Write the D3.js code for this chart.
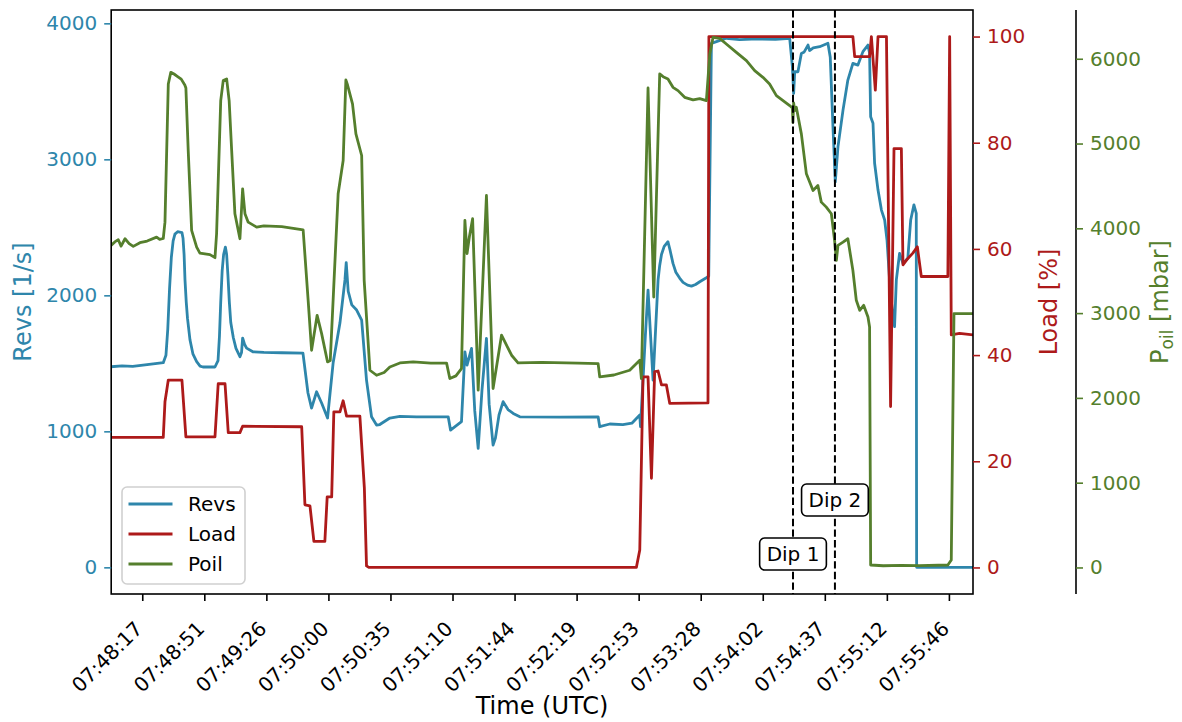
<!DOCTYPE html>
<html>
<head>
<meta charset="utf-8">
<script src="https://cdn.jsdelivr.net/npm/d3@7"></script>
<style>
  html, body { margin: 0; padding: 0; background: #fff; }
  svg { display: block; font-family: "DejaVu Sans", sans-serif; }
</style>
</head>
<body>
<svg id="chart" width="1182" height="722"></svg>
<script>
// ---------------- DATA (seconds after 07:48:00 UTC) ----------------
const revsT = [0,6,12,20,29,30.5,31.5,32.5,33.5,34.5,35.5,37,39.4,40.0,40.6,41.1,41.8,42.5,43.9,45.5,47.6,49.5,51.1,57.8,59.5,60.3,61.0,61.8,62.6,63.6,64.3,65.0,65.8,66.6,68,69.5,71.7,72.6,73.2,74.3,75.4,78.9,85,95,106.8,109.6,111.6,114.4,117.2,120.5,123.6,127.4,130.2,130.9,132.0,134,136.7,139.5,142.2,145.0,147.8,149.6,155.2,160.8,170,187.7,189.0,195.1,197.0,198.2,200.7,202.5,204.4,206.5,209.0,210.5,212.7,214,216,218.3,221,223.9,227.6,250,271.2,272.1,277.7,285,290,294.4,294.8,297.5,299.0,301.8,304.6,305.5,306.5,308,310.1,311.3,312.9,314.5,316.7,318.5,321,323.2,325.5,327.8,331.5,332.8,334.3,337.1,342.6,350,360,370,377.9,379.4,380.1,380.7,382.5,384.4,386,388.1,389,391,394.6,399.2,400.5,402.0,403.3,404.8,407.6,410.3,413.1,415.9,418.7,421.5,422.4,423.0,424.3,425.2,427.1,429.0,430.8,432.1,434.1,436.3,437.3,439.1,441.0,443.7,445.3,447.1,448.4,448.6,480];
const revsV = [1475,1482,1478,1490,1505,1560,1750,2050,2280,2400,2450,2468,2462,2420,2300,2114,1950,1830,1671,1570,1512,1480,1473,1473,1520,1700,1950,2180,2300,2355,2300,2150,1950,1800,1690,1610,1549,1580,1686,1640,1612,1585,1580,1578,1575,1282,1171,1291,1208,1098,1502,1796,2113,2240,2030,1930,1892,1818,1377,1107,1046,1050,1098,1110,1107,1107,1009,1071,1585,1487,1610,1150,875,1300,1684,1200,899,950,1120,1218,1160,1132,1107,1105,1107,1034,1054,1050,1060,1120,1034,1700,2039,1377,2114,2220,2300,2360,2394,2330,2235,2170,2125,2095,2075,2068,2080,2100,2129,2140,3853,3865,3890,3880,3885,3882,3890,3681,3485,3644,3644,3779,3790,3840,3800,3820,3828,3853,3750,3240,2835,3093,3362,3583,3706,3693,3792,3840,3780,3313,3265,2971,2774,2627,2554,2407,2000,1770,2114,2309,2235,2272,2554,2665,2603,0,0];

const loadT = [0,29.0,29.95,31.8,39.4,41.6,57.8,59.6,63.4,65.2,71.7,73.2,106.1,107.9,110.7,112.9,119.0,120.3,122.8,124.0,127.4,129.2,131.1,138.5,141,142.2,143.5,292.5,294.4,296.2,299.0,300.9,302.7,304.6,306.5,309.2,311.1,332.4,332.9,413.1,414.1,422.4,423.4,425.6,427.1,431.8,434.1,436.0,440.1,441.0,443.7,446.5,449.0,451.2,457.7,466.0,467.0,467.9,472.5,480];
const loadV = [24.5,24.5,31.2,35.3,35.3,24.6,24.6,34.6,34.6,25.4,25.4,26.6,26.5,11.8,11.6,4.9,4.9,13.3,13.3,29.3,29.3,31.4,28.5,28.5,15,0.3,0,0,3.3,35.9,35.9,16.8,36.9,37.0,34.4,34.4,30.9,31.0,100,100,96.2,96.2,100,89.9,100,100,30.3,78.9,78.9,57.0,58.2,59.2,60.4,54.8,54.8,54.8,100,43.8,44.1,43.8];

const poilT = [0,2,3.95,5.5,7.7,10,12.3,16,20,25.3,27,29.0,29.95,31.8,33.2,35,37,39,41.0,41.6,42.9,44.8,47.6,49.4,55,57.8,58.7,61.0,62.4,64.3,65.7,67.1,68.9,71.7,73.2,74.5,76.3,81.0,85,95,106.9,109.7,111.6,114.7,117.2,120.5,122,123.6,126.4,129.2,130.7,131.5,134.4,136.3,139.5,140.9,144.1,147.8,152,155.2,160.8,168.2,178,186.8,188.6,192,195.1,197.0,198.2,199.5,201.3,204.4,209.0,212.7,217.4,223.0,226.6,240,260,271.2,272.1,280,288.8,294.4,295.3,299.0,302.2,305.5,307.4,310.1,312.9,315.7,319.4,324.1,327.8,331.5,333.4,335.2,338.9,342.6,348.2,353.8,358.4,363.0,366.7,370.5,374.2,377.9,379.4,379.7,380.1,380.7,381.6,384.4,387.2,390.9,393.6,395.5,398.3,401.1,402.9,403.9,404.8,407.6,410.3,413.1,415.0,416.9,419.1,421.5,422.4,423.0,430,440,450,466.0,467.9,469.4,480];
const poilV = [3799,3840,3866,3790,3877,3820,3787,3830,3850,3896,3870,3880,4073,5703,5840,5820,5790,5760,5690,5656,4917,3975,3779,3708,3690,3654,3936,5506,5742,5762,5506,4917,4172,3877,4466,4172,4073,4014,4030,4020,3983,3151,2562,2974,2758,2424,2440,3151,4407,4800,5750,5700,5468,5114,4859,3386,2326,2267,2300,2365,2412,2424,2410,2410,2228,2260,2346,4093,3701,3900,4113,2091,4387,2111,2739,2503,2412,2420,2410,2405,2247,2270,2326,2444,2228,5656,3190,5821,5789,5762,5663,5624,5545,5514,5530,5506,6056,6252,6240,6174,6075,5978,5860,5781,5703,5565,5506,5448,5420,5250,5480,5389,5428,5114,4643,4446,4505,4309,4250,4172,3857,3622,3799,3837,3877,3504,3151,3033,3092,2954,2836,29,20,25,22,29,88,2994,2994];

const tickTimes = [17.3,51.86,86.42,120.98,155.54,190.1,224.66,259.22,293.78,328.34,362.9,397.46,432.02,466.58];
const revsTicks = [0,1000,2000,3000,4000];
const loadTicks = [0,20,40,60,80,100];
const poilTicks = [0,1000,2000,3000,4000,5000,6000];
const dipTimes = [379.75, 403.1];
const dipLabels = ["Dip 1", "Dip 2"];
const dipLabelRevs = [98, 495];
const seriesNames = ["Revs", "Load", "Poil"];

// ---------------- SETUP ----------------
const base = Date.UTC(2024, 0, 1, 7, 48, 0);
const toDate = s => new Date(base + s * 1000);
const C = { revs: "#2E86AB", load: "#AD1A1A", poil: "#557F2D" };
const L = 111.2, R = 973, T = 10, B = 594;
const FS = 20;

const svg = d3.select("#chart");
const x = d3.scaleUtc().domain([toDate(0), toDate(480)]).range([L, R]);
const yR = d3.scaleLinear().domain([-196, 4098]).range([B, T]);
const yL = d3.scaleLinear().domain([-5, 105]).range([B, T]);
const yP = d3.scaleLinear().domain([-313, 6575]).range([B, T]);

svg.append("clipPath").attr("id", "clip")
  .append("rect").attr("x", L).attr("y", T).attr("width", R - L).attr("height", B - T);

const plot = svg.append("g").attr("clip-path", "url(#clip)");
function drawLine(ts, vs, y, color) {
  const pts = ts.map((t, i) => [toDate(t), vs[i]]);
  plot.append("path").datum(pts)
    .attr("fill", "none").attr("stroke", color).attr("stroke-width", 2.8)
    .attr("stroke-linejoin", "round").attr("stroke-linecap", "square")
    .attr("d", d3.line().x(d => x(d[0])).y(d => y(d[1])));
}
drawLine(revsT, revsV, yR, C.revs);
drawLine(loadT, loadV, yL, C.load);
drawLine(poilT, poilV, yP, C.poil);

// dashed lines
dipTimes.forEach(t => {
  svg.append("line").attr("x1", x(toDate(t))).attr("x2", x(toDate(t)))
    .attr("y1", T).attr("y2", B).attr("stroke", "#000").attr("stroke-width", 2)
    .attr("stroke-dasharray", "7.4,3.2");
});

// dip labels
dipTimes.forEach((t, i) => {
  const g = svg.append("g");
  const cx = x(toDate(t)), cy = yR(dipLabelRevs[i]);
  const txt = g.append("text").attr("x", cx).attr("y", cy)
    .attr("text-anchor", "middle").attr("dominant-baseline", "central")
    .attr("font-size", FS).text(dipLabels[i]);
  const w = txt.node().getComputedTextLength();
  g.insert("rect", "text").attr("x", cx - w / 2 - 7).attr("y", cy - 16)
    .attr("width", w + 14).attr("height", 32).attr("rx", 5)
    .attr("fill", "#fff").attr("stroke", "#000").attr("stroke-width", 1.6);
});

// frame
svg.append("rect").attr("x", L).attr("y", T).attr("width", R - L).attr("height", B - T)
  .attr("fill", "none").attr("stroke", "#000").attr("stroke-width", 1.6);

// axes
function styleAxis(g, color) {
  g.select(".domain").remove();
  g.selectAll(".tick line").attr("stroke", color).attr("stroke-width", 1.6);
  g.selectAll(".tick text").attr("fill", color).attr("font-size", FS)
    .attr("font-family", "DejaVu Sans, sans-serif");
}
const ax = svg.append("g").attr("transform", `translate(0,${B})`)
  .call(d3.axisBottom(x).tickValues(tickTimes.map(toDate)).tickFormat(d3.utcFormat("%H:%M:%S")).tickSizeOuter(0).tickSize(7));
styleAxis(ax, "#000");
ax.selectAll(".tick text")
  .attr("text-anchor", "end").attr("dy", null).attr("y", 0)
  .attr("transform", "translate(1,36) rotate(-45)");

const ayR = svg.append("g").attr("transform", `translate(${L},0)`)
  .call(d3.axisLeft(yR).tickValues(revsTicks).tickFormat(d3.format("d")).tickSize(7).tickPadding(7));
styleAxis(ayR, C.revs);

const ayL = svg.append("g").attr("transform", `translate(${R},0)`)
  .call(d3.axisRight(yL).tickValues(loadTicks).tickFormat(d3.format("d")).tickSize(7).tickPadding(7));
styleAxis(ayL, C.load);

const PX = 1076;
svg.append("line").attr("x1", PX).attr("x2", PX).attr("y1", T).attr("y2", B)
  .attr("stroke", "#000").attr("stroke-width", 1.6);
const ayP = svg.append("g").attr("transform", `translate(${PX},0)`)
  .call(d3.axisRight(yP).tickValues(poilTicks).tickFormat(d3.format("d")).tickSize(7).tickPadding(7));
styleAxis(ayP, C.poil);

// axis labels
svg.append("text").attr("x", 542).attr("y", 714).attr("text-anchor", "middle")
  .attr("font-size", 24).attr("fill", "#000").text("Time (UTC)");
svg.append("text").attr("transform", `translate(31,302) rotate(-90)`).attr("text-anchor", "middle")
  .attr("font-size", 24).attr("fill", C.revs).text("Revs [1/s]");
svg.append("text").attr("transform", `translate(1057,302) rotate(-90)`).attr("text-anchor", "middle")
  .attr("font-size", 24).attr("fill", C.load).text("Load [%]");
const pl = svg.append("text").attr("transform", `translate(1168,302) rotate(-90)`).attr("text-anchor", "middle")
  .attr("font-size", 24).attr("fill", C.poil);
pl.append("tspan").text("P");
pl.append("tspan").attr("font-size", 17).attr("dy", 5).text("oil");
pl.append("tspan").attr("dy", -5).text(" [mbar]");

// legend
const lg = svg.append("g");
lg.append("rect").attr("x", 122).attr("y", 487).attr("width", 123).attr("height", 97).attr("rx", 5)
  .attr("fill", "#fff").attr("fill-opacity", 0.8).attr("stroke", "#d0d0d0").attr("stroke-width", 1.6);
const lcolors = [C.revs, C.load, C.poil];
seriesNames.forEach((n, i) => {
  const yy = 504 + i * 30;
  lg.append("line").attr("x1", 128.5).attr("x2", 172.5).attr("y1", yy).attr("y2", yy)
    .attr("stroke", lcolors[i]).attr("stroke-width", 2.8);
  lg.append("text").attr("x", 188).attr("y", yy).attr("dominant-baseline", "central")
    .attr("font-size", FS).attr("fill", "#000").text(n);
});
</script>
</body>
</html>
